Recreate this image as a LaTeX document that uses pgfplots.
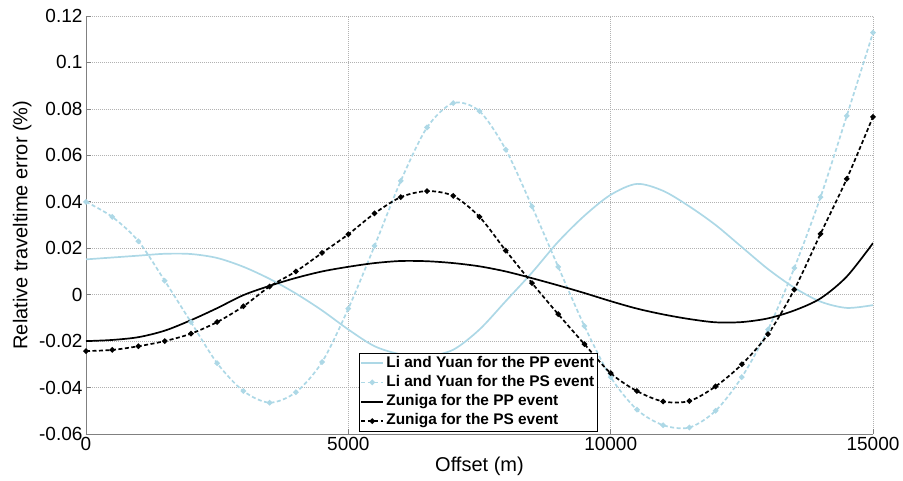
\documentclass[border=0pt]{standalone}
\usepackage{fontspec}
\setmainfont{Liberation Sans}
\usepackage{pgfplots}
\usepackage{pgfplotstable}
\pgfplotsset{compat=1.18}

\definecolor{lblue}{RGB}{173,216,230}
\definecolor{axgray}{RGB}{128,128,128}

% offset (m) / relative traveltime error (%)
\pgfplotstableread{
x     lpp      lps      zpp      zps
0     0.0152   0.0400  -0.0200  -0.0243
500   0.0160   0.0335  -0.0195  -0.0238
1000  0.0168   0.0230  -0.0183  -0.0222
1500  0.0176   0.0060  -0.0155  -0.0200
2000  0.0175  -0.0118  -0.0110  -0.0168
2500  0.0158  -0.0295  -0.0058  -0.0118
3000  0.0120  -0.0415  -0.0002  -0.0050
3500  0.0068  -0.0465   0.0038   0.0035
4000  0.0005  -0.0420   0.0072   0.0100
4500 -0.0068  -0.0290   0.0100   0.0180
5000 -0.0150  -0.0060   0.0120   0.0260
5500 -0.0222   0.0210   0.0136   0.0350
6000 -0.0257   0.0490   0.0145   0.0420
6500 -0.0265   0.0720   0.0144   0.0446
7000 -0.0237   0.0825   0.0136   0.0425
7500 -0.0150   0.0790   0.0122   0.0335
8000 -0.0028   0.0625   0.0100   0.0190
8500  0.0095   0.0380   0.0071   0.0050
9000  0.0228   0.0120   0.0040  -0.0084
9500  0.0340  -0.0135   0.0007  -0.0213
10000 0.0430  -0.0355  -0.0028  -0.0338
10500 0.0477  -0.0495  -0.0060  -0.0415
11000 0.0447  -0.0562  -0.0085  -0.0460
11500 0.0380  -0.0572  -0.0105  -0.0458
12000 0.0300  -0.0500  -0.0119  -0.0395
12500 0.0205  -0.0355  -0.0118  -0.0300
13000 0.0110  -0.0150  -0.0102  -0.0170
13500 0.0030   0.0115  -0.0068   0.0022
14000 -0.0030  0.0420  -0.0016   0.0262
14500 -0.0057  0.0770   0.0078   0.0499
15000 -0.0045  0.1128   0.0222   0.0766
}\errtable

\begin{document}
\begin{tikzpicture}
\begin{axis}[
    scale only axis,
    width=787pt, height=418pt,
    xmin=0, xmax=15000, ymin=-0.06, ymax=0.12,
    axis x line*=bottom, axis y line*=left,
    axis line style={axgray, line width=0.8pt, -},
    scaled x ticks=false, scaled y ticks=false,
    xtick={0,5000,10000,15000},
    xticklabels={0,5000,10000,15000},
    ytick={-0.06,-0.04,...,0.121},
    yticklabels={-0.06,-0.04,-0.02,0,0.02,0.04,0.06,0.08,0.1,0.12},
    tick align=inside,
    major tick length=5pt,
    tick style={axgray, line width=0.6pt},
    ticklabel style={font=\fontsize{19}{22}\selectfont},
    /pgf/number format/assume math mode=true,
    grid=major,
    major grid style={gray!60, line width=0.5pt, dash pattern=on 0.6pt off 1.4pt},
    xlabel={Offset (m)},
    ylabel={Relative traveltime error (\%)},
    every axis x label/.style={at={(axis description cs:0.5,-0.078)}, anchor=center,
        font=\fontsize{20}{24}\selectfont},
    every axis y label/.style={at={(axis description cs:-0.081,0.5)}, rotate=90, anchor=center,
        font=\fontsize{20}{24}\selectfont},
    legend style={
        at={(rel axis cs:0.347,0.007)}, anchor=south west,
        draw=black, fill=white,
        font=\fontsize{15.4}{18}\selectfont\bfseries,
        inner xsep=1pt, inner ysep=0.5pt,
        row sep=0.7pt,
        nodes={inner sep=2.2pt, text height=11pt, text depth=3.2pt},
        /tikz/every even column/.append style={column sep=0pt},
    },
    legend cell align=left,
    legend image code/.code={
        \draw[mark repeat=2, mark phase=2, #1]
            plot coordinates {(0cm,0cm) (0.39cm,0cm) (0.78cm,0cm)};
    },
]
\addplot[lblue, line width=1.7pt, smooth, tension=0.5] table[x=x, y=lpp] {\errtable};
\addlegendentry{Li and Yuan for the PP event}
\addplot[lblue, line width=1.7pt, dash pattern=on 4pt off 2.5pt, smooth, tension=0.5,
    mark=*, mark size=1.8pt, mark options={solid}] table[x=x, y=lps] {\errtable};
\addlegendentry{Li and Yuan for the PS event}
\addplot[black, line width=1.7pt, smooth, tension=0.5] table[x=x, y=zpp] {\errtable};
\addlegendentry{Zuniga for the PP event}
\addplot[black, line width=1.7pt, dash pattern=on 4pt off 2.5pt, smooth, tension=0.5,
    mark=*, mark size=1.8pt, mark options={solid}] table[x=x, y=zps] {\errtable};
\addlegendentry{Zuniga for the PS event}
\end{axis}
\pgfresetboundingbox
\path (-86pt,-46pt) rectangle (817pt,434pt);
\end{tikzpicture}
\end{document}
